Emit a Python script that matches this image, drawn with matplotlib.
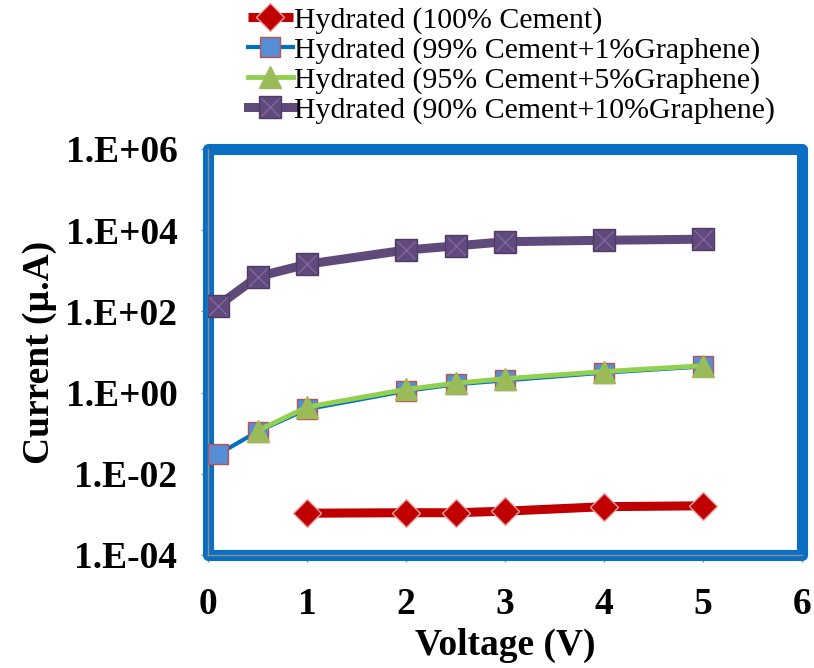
import matplotlib
matplotlib.use("Agg")
import matplotlib.pyplot as plt
from matplotlib.patches import Rectangle

# ---- data ----
v_red = [1, 2, 2.5, 3, 4, 5]
i_red = [1.07e-3, 1.1e-3, 1.1e-3, 1.2e-3, 1.55e-3, 1.63e-3]

v_blue = [0.1, 0.5, 1, 2, 2.5, 3, 4, 5]
i_blue = [0.030, 0.11, 0.39, 1.1, 1.6, 2.0, 3.1, 4.4]

v_green = [0.5, 1, 2, 2.5, 3, 4, 5]
i_green = [0.115, 0.44, 1.2, 1.7, 2.2, 3.3, 4.6]

v_purple = [0.1, 0.5, 1, 2, 2.5, 3, 4, 5]
i_purple = [138, 716, 1450, 3250, 4100, 5200, 5650, 6000]

labels = ["Hydrated (100% Cement)",
          "Hydrated (99% Cement+1%Graphene)",
          "Hydrated (95% Cement+5%Graphene)",
          "Hydrated (90% Cement+10%Graphene)"]

x_ticks = [0, 1, 2, 3, 4, 5, 6]
y_ticks = [1e-4, 1e-2, 1e0, 1e2, 1e4, 1e6]
y_tick_labels = ["1.E-04", "1.E-02", "1.E+00", "1.E+02", "1.E+04", "1.E+06"]

plt.rcParams['font.family'] = ['Liberation Serif', 'DejaVu Serif']

fig = plt.figure(figsize=(8.14, 6.68), dpi=100)
ax = fig.add_axes([208/814, 1 - 555/668, (802 - 208)/814, (555 - 149)/668])
ax.set_yscale('log')
ax.set_xlim(0, 6)
ax.set_ylim(1e-4, 1e6)

h_red, = ax.plot(v_red, i_red, color='#C00000', lw=6.5, marker='D', ms=14,
                 mfc='#C00000', mec='#E8A0A0', mew=1, zorder=4, solid_capstyle='butt')
h_blue, = ax.plot(v_blue, i_blue, color='#0070C0', lw=3, marker='s', ms=15,
                  mfc='#558ED5', mec='#C0504D', mew=1, zorder=4)
h_green, = ax.plot(v_green, i_green, color='#92D050', lw=3.5, marker='^', ms=16,
                   mfc='#9BBB59', mec='#9BBB59', mew=1, zorder=5)
h_purple, = ax.plot(v_purple, i_purple, color='#604A7B', lw=6.5, marker='s', ms=16,
                    mfc='#604A7B', mec='#4E3B66', mew=1, zorder=4)
h_px, = ax.plot(v_purple, i_purple, ls='none', marker='x', ms=13, mec='#8064A2',
                mew=1, zorder=4.5)

# blue rounded plot-area frame
frame = Rectangle((0, 0), 1, 1, transform=ax.transAxes, fill=False,
                  lw=8, ec='#0A6FC2', joinstyle='round', clip_on=False, zorder=2)
ax.add_patch(frame)

for s in ['top', 'right']:
    ax.spines[s].set_visible(False)
for s in ['left', 'bottom']:
    ax.spines[s].set_color('#909090')
    ax.spines[s].set_linewidth(1)
    ax.spines[s].set_zorder(3)

ax.set_xticks(x_ticks)
ax.set_xticklabels([str(t) for t in x_ticks])
ax.set_yticks(y_ticks)
ax.set_yticklabels(y_tick_labels)
ax.minorticks_off()
ax.tick_params(axis='both', direction='out', length=5, width=1, color='#909090',
               labelsize=27)
ax.tick_params(axis='y', pad=17)
ax.tick_params(axis='x', pad=18)
for lab in ax.get_xticklabels() + ax.get_yticklabels():
    lab.set_fontweight('bold')

ax.set_xlabel('Voltage (V)', fontsize=27, fontweight='bold', labelpad=4)
ax.set_ylabel('Current (\u00b5.A)', fontsize=27, fontweight='bold', labelpad=6)

leg = fig.legend([h_red, h_blue, h_green, (h_purple, h_px)], labels,
                 loc='upper left', bbox_to_anchor=(245/814, 0.995),
                 frameon=False, fontsize=21.5, handlelength=1.5, handletextpad=0.05,
                 labelspacing=0.1, borderaxespad=0, borderpad=0.1)

fig.savefig('out.png', dpi=100)
